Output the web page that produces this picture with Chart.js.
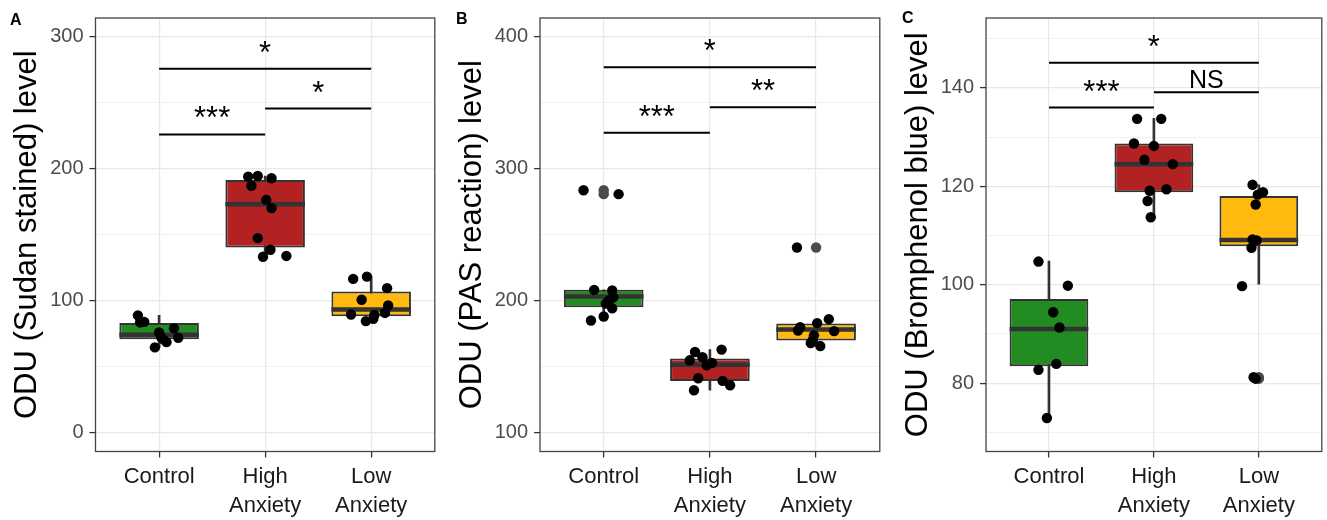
<!DOCTYPE html>
<html>
<head>
<meta charset="utf-8">
<script src="https://cdn.jsdelivr.net/npm/chart.js@4.4.1/dist/chart.umd.min.js"></script>
<style>
  body { margin:0; background:#fff; width:1327px; height:520px; position:relative; overflow:hidden; font-family:'Liberation Sans', Arial, sans-serif; }
  .panel { position:absolute; top:0; height:520px; }
  .tag { position:absolute; font-weight:bold; font-size:16px; color:#000; }
</style>
</head>
<body>
<div class="panel" style="left:0;width:440px"><canvas id="chartA"></canvas></div>
<div class="panel" style="left:440px;width:445px"><canvas id="chartB"></canvas></div>
<div class="panel" style="left:885px;width:442px"><canvas id="chartC"></canvas></div>
<div class="tag" style="left:10px;top:11px">A</div>
<div class="tag" style="left:456px;top:10px">B</div>
<div class="tag" style="left:902px;top:9px">C</div>

<script>
// ── categories & colours ─────────────────────────────
const groups = ['Control', 'High Anxiety', 'Low Anxiety'];
const boxFills = ['#228B22', '#B22222', '#FFB90F'];

// ── A: Sudan stained ─────────────────────────────────
const A_q1  = [70.5, 140.1, 88.0];
const A_med = [73.9, 172.9, 93.1];
const A_q3  = [82.8, 191.3, 106.7];
const A_lo  = [64.4, 133.1, 84.3];
const A_hi  = [88.6, 194.3, 118.0];
const A_px  = [0.80,0.82,0.86,1.00,1.14,1.18,1.07,1.02,0.96,1.04,
               1.84,1.93,2.06,1.87,2.01,2.06,1.93,2.05,1.98,2.20,
               2.83,2.96,3.15,2.91,2.81,3.16,3.13,3.03,3.02,2.95];
const A_py  = [88.6,83.3,83.7,75.7,78.8,71.7,68.4,72.0,64.4,70.5,
               193.8,194.3,192.6,186.9,176.2,169.9,147.2,138.4,133.1,133.7,
               116.3,118.0,109.3,100.5,89.3,96.1,90.5,89.0,86.1,84.3];
const A_outX = [];
const A_outY = [];
const A_brFrom = [1, 2, 1];
const A_brTo   = [3, 3, 2];
const A_brY    = [275.6, 245.4, 225.8];
const A_brText = ['*', '*', '***'];
const A_ticks = [0, 100, 200, 300];
const A_minor = [50, 150, 250];

// ── B: PAS reaction ──────────────────────────────────
const B_q1  = [194.8, 139.0, 169.7];
const B_med = [202.9, 151.2, 178.0];
const B_q3  = [208.0, 155.9, 182.5];
const B_lo  = [184.8, 131.9, 165.4];
const B_hi  = [208.1, 162.7, 185.8];
const B_px  = [0.81,1.14,0.91,1.08,1.09,1.05,1.08,0.88,1.00,1.02,
               1.86,2.11,1.81,1.93,1.97,1.89,2.12,2.19,1.85,2.02,
               2.82,2.83,2.85,3.01,3.12,3.17,2.98,2.95,3.04,2.97];
const B_py  = [283.5,280.5,208.0,207.5,202.4,199.9,194.0,184.8,187.8,197.6,
               160.9,162.7,154.6,156.9,150.8,141.0,139.0,135.7,131.9,152.6,
               240.1,177.2,179.7,182.8,185.8,176.7,173.5,167.7,165.4,170.2];
const B_outX = [1, 1, 3];
const B_outY = [283.5, 280.5, 240.1];
const B_brFrom = [1, 2, 1];
const B_brTo   = [3, 3, 2];
const B_brY    = [376.6, 346.4, 327.0];
const B_brText = ['*', '**', '***'];
const B_ticks = [100, 200, 300, 400];
const B_minor = [150, 250, 350];

// ── C: Bromphenol blue ───────────────────────────────
const C_q1  = [83.4, 118.8, 107.8];
const C_med = [91.0, 124.5, 109.1];
const C_q3  = [97.1, 128.7, 118.0];
const C_lo  = [72.8, 113.6, 100.1];
const C_hi  = [104.8, 133.8, 120.3];
const C_px  = [0.90,1.18,1.04,1.10,1.07,0.90,0.98,
               1.84,2.07,1.81,2.00,1.91,2.18,1.96,2.12,1.94,1.97,
               2.94,3.04,2.99,2.97,2.94,2.98,2.93,2.84,2.95,2.97];
const C_py  = [104.7,99.8,94.4,91.3,83.9,82.7,72.9,
               133.7,133.7,128.7,128.2,125.4,124.5,119.1,119.4,117.0,113.7,
               120.3,118.8,118.3,116.3,109.2,109.0,107.5,99.7,81.2,80.9];
const C_outX = [3, 3];
const C_outY = [81.2, 80.9];
const C_brFrom = [1, 2, 1];
const C_brTo   = [3, 3, 2];
const C_brY    = [145.1, 139.1, 136.0];
const C_brText = ['*', 'NS', '***'];
const C_ticks = [80, 100, 120, 140];
const C_minor = [70, 90, 110, 130, 150];

const LINE = '#333333';

// median bars + panel frame + significance labels
const boxPlotExtras = {
  id: 'boxPlotExtras',
  afterDatasetDraw(chart, args) {
    const ds = chart.data.datasets[args.index];
    if (!ds.medians) return;
    const ctx = chart.ctx, ys = chart.scales.y;
    ctx.save();
    ctx.strokeStyle = LINE;
    ctx.lineWidth = 4.5;
    args.meta.data.forEach((bar, i) => {
      const py = ys.getPixelForValue(ds.medians[i]);
      ctx.beginPath();
      ctx.moveTo(bar.x - bar.width / 2, py);
      ctx.lineTo(bar.x + bar.width / 2, py);
      ctx.stroke();
    });
    ctx.restore();
  },
  afterDraw(chart) {
    const ctx = chart.ctx, a = chart.chartArea;
    const xs = chart.scales.x, ys = chart.scales.y;
    ctx.save();
    ctx.strokeStyle = '#444';
    ctx.lineWidth = 1.3;
    ctx.strokeRect(a.left, a.top, a.right - a.left, a.bottom - a.top);
    ctx.fillStyle = '#000';
    ctx.textAlign = 'center';
    ctx.textBaseline = 'alphabetic';
    chart.data.datasets.forEach(ds => {
      if (!ds.sig) return;
      const stars = /^\*+$/.test(ds.sig);
      ctx.font = (stars ? 31 : 25) + 'px "Liberation Sans", Arial, sans-serif';
      const px = (xs.getPixelForValue(ds.data[0].x) + xs.getPixelForValue(ds.data[1].x)) / 2;
      const py = ys.getPixelForValue(ds.data[0].y) - (stars ? 6 : 4);
      ctx.fillText(ds.sig, px, py);
    });
    ctx.restore();
  }
};

function makePanel(id, d) {
  const allTicks = d.ticks.concat(d.minor).sort((a, b) => a - b);
  const isMajor = c => c.tick && d.ticks.includes(c.tick.value);

  const datasets = [
    // whiskers
    { type:'bar', order:5, grouped:false, categoryPercentage:1, barPercentage:1, maxBarThickness:2,
      backgroundColor:LINE, borderWidth:0,
      data: groups.map((g, i) => ({ x:i + 1, y:[d.lo[i], d.hi[i]] })) },
    // boxes
    { type:'bar', order:4, grouped:false, categoryPercentage:1, barPercentage:0.75,
      backgroundColor:boxFills, borderColor:LINE, borderWidth:2, borderSkipped:false,
      medians:d.med,
      data: groups.map((g, i) => ({ x:i + 1, y:[d.q1[i], d.q3[i]] })) },
    // outliers
    { type:'scatter', order:3, pointRadius:5.2, pointBorderWidth:0, pointBackgroundColor:'#4a4a4a',
      data: d.outX.map((x, i) => ({ x, y:d.outY[i] })) },
    // jittered points
    { type:'scatter', order:2, pointRadius:5.2, pointBorderWidth:0, pointBackgroundColor:'#000',
      data: d.px.map((x, i) => ({ x, y:d.py[i] })) },
  ];
  d.brY.forEach((y, i) => {
    datasets.push({ type:'line', order:1, borderColor:'#000', borderWidth:2, pointRadius:0, fill:false,
      sig:d.brText[i], data:[{ x:d.brFrom[i], y }, { x:d.brTo[i], y }] });
  });

  new Chart(document.getElementById(id), {
    type: 'scatter',
    data: { datasets },
    plugins: [boxPlotExtras],
    options: {
      responsive:true, maintainAspectRatio:false, animation:false, events:[],
      layout: { padding: d.pad },
      plugins: { legend:{ display:false }, tooltip:{ enabled:false } },
      scales: {
        x: {
          type:'linear', min:0.4, max:3.6, offset:false,
          afterBuildTicks: s => { s.ticks = [1, 2, 3].map(v => ({ value:v })); },
          afterFit: s => { s.height = 68.5; },
          border: { display:false },
          grid: { offset:false, color:'#e8e8e8', lineWidth:1.2, tickLength:6, tickColor:LINE, tickWidth:1.3 },
          ticks: { padding:4, color:'#1a1a1a', maxRotation:0, autoSkip:false,
                   font:{ size:22, lineHeight:1.36 },
                   callback: v => groups[v - 1].split(' ') }
        },
        y: {
          type:'linear', min:d.min, max:d.max,
          afterBuildTicks: s => { s.ticks = allTicks.map(v => ({ value:v })); },
          afterFit: s => { s.width = 83.5; },
          border: { display:false },
          grid: { color:'#e8e8e8', lineWidth: c => isMajor(c) ? 1.2 : 0.6, tickLength:6,
                  tickColor: c => isMajor(c) ? LINE : 'rgba(0,0,0,0)', tickWidth:1.3 },
          ticks: { padding:6, color:'#4d4d4d', autoSkip:false, font:{ size:20 },
                   callback: v => d.ticks.includes(v) ? String(v) : '' },
          title: { display:true, text:d.title, color:'#000', padding:0, font:{ size:31, lineHeight:1 } }
        }
      }
    }
  });
}

Chart.defaults.font.family = "'Liberation Sans', Arial, sans-serif";

makePanel('chartA', { q1:A_q1, med:A_med, q3:A_q3, lo:A_lo, hi:A_hi, px:A_px, py:A_py,
  outX:A_outX, outY:A_outY, brFrom:A_brFrom, brTo:A_brTo, brY:A_brY, brText:A_brText,
  ticks:A_ticks, minor:A_minor, min:-14.5, max:314.0,
  title:'ODU (Sudan stained) level', pad:{ left:12, right:5, top:16.5, bottom:0 } });

makePanel('chartB', { q1:B_q1, med:B_med, q3:B_q3, lo:B_lo, hi:B_hi, px:B_px, py:B_py,
  outX:B_outX, outY:B_outY, brFrom:B_brFrom, brTo:B_brTo, brY:B_brY, brText:B_brText,
  ticks:B_ticks, minor:B_minor, min:85.5, max:414.0,
  title:'ODU (PAS reaction) level', pad:{ left:16.5, right:3.5, top:16.5, bottom:0 } });

makePanel('chartC', { q1:C_q1, med:C_med, q3:C_q3, lo:C_lo, hi:C_hi, px:C_px, py:C_py,
  outX:C_outX, outY:C_outY, brFrom:C_brFrom, brTo:C_brTo, brY:C_brY, brText:C_brText,
  ticks:C_ticks, minor:C_minor, min:66.1, max:154.2,
  title:'ODU (Bromphenol blue) level', pad:{ left:17.5, right:1, top:16, bottom:0 } });
</script>
</body>
</html>
